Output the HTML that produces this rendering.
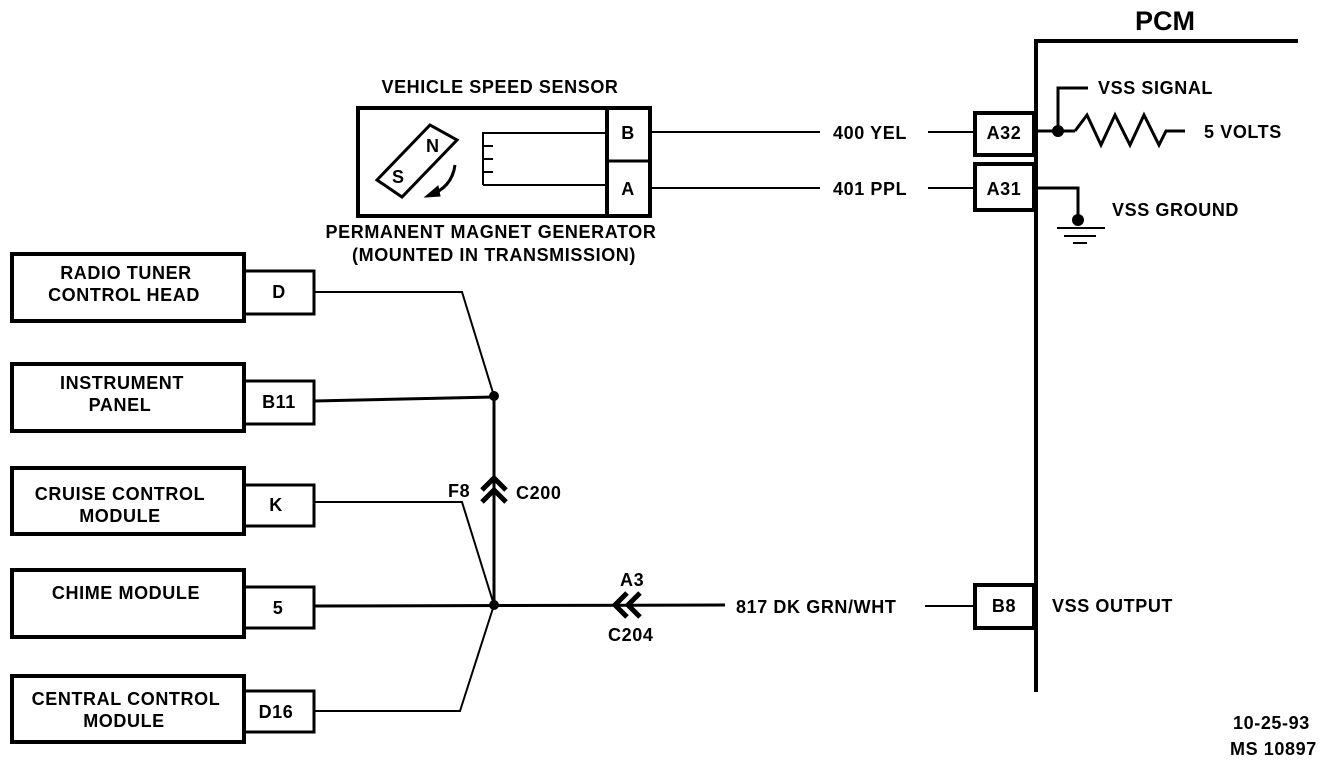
<!DOCTYPE html>
<html><head><style>
body{margin:0;background:#fff}
svg{display:block}
text{font-family:"Liberation Sans",sans-serif;font-weight:bold;fill:#000}
</style></head><body>
<svg width="1344" height="768" viewBox="0 0 1344 768" xmlns="http://www.w3.org/2000/svg">
<g fill="none" stroke="#000">
<rect x="12" y="254" width="232" height="67" stroke-width="4"/>
<rect x="244" y="271" width="70" height="43" stroke-width="3"/>
<rect x="12" y="364" width="232" height="67" stroke-width="4"/>
<rect x="244" y="381" width="70" height="43" stroke-width="3"/>
<rect x="12" y="468" width="232" height="66" stroke-width="4"/>
<rect x="244" y="485" width="70" height="41" stroke-width="3"/>
<rect x="12" y="570" width="232" height="67" stroke-width="4"/>
<rect x="244" y="587" width="70" height="41" stroke-width="3"/>
<rect x="12" y="676" width="232" height="66" stroke-width="4"/>
<rect x="244" y="691" width="70" height="41" stroke-width="3"/>
<polyline points="314,292 462,292 494,396" stroke-width="2"/>
<line x1="314" y1="401" x2="494" y2="397" stroke-width="3"/>
<line x1="494" y1="396" x2="494" y2="605" stroke-width="3"/>
<polyline points="314,502 462,502 494,605" stroke-width="2"/>
<line x1="314" y1="606" x2="725" y2="605" stroke-width="3"/>
<polyline points="314,711 460,711 494,605" stroke-width="2"/>
<line x1="925" y1="606" x2="975" y2="606" stroke-width="2"/>
<polyline points="482,490 494,478 506,490" stroke-width="5"/>
<polyline points="482,502 494,490 506,502" stroke-width="5"/>
<polyline points="627,593 615,605 627,617" stroke-width="5"/>
<polyline points="640,593 628,605 640,617" stroke-width="5"/>
<rect x="358" y="108" width="292" height="108" stroke-width="4"/>
<line x1="607" y1="108" x2="607" y2="216" stroke-width="4"/>
<line x1="607" y1="161" x2="650" y2="161" stroke-width="3"/>
<polygon points="377,180 430,125 457,140 402,197" stroke-width="3"/>
<path d="M455,165 Q452,188 428,196" stroke-width="3"/>
<polygon points="425,197 438,186 440,196" fill="#000" stroke-width="1"/>
<polyline points="483,185 483,133 607,133" stroke-width="2"/>
<polyline points="483,185 607,185" stroke-width="2"/>
<line x1="483" y1="146" x2="493" y2="146" stroke-width="2"/>
<line x1="483" y1="159" x2="493" y2="159" stroke-width="2"/>
<line x1="483" y1="172" x2="493" y2="172" stroke-width="2"/>
<line x1="650" y1="132" x2="820" y2="132" stroke-width="2"/>
<line x1="650" y1="188" x2="820" y2="188" stroke-width="2"/>
<line x1="928" y1="132" x2="975" y2="132" stroke-width="2"/>
<line x1="928" y1="188" x2="975" y2="188" stroke-width="2"/>
<polyline points="1036,692 1036,41 1298,41" stroke-width="4"/>
<rect x="975" y="113" width="59" height="42" stroke-width="4"/>
<rect x="975" y="164" width="59" height="46" stroke-width="4"/>
<rect x="975" y="585" width="59" height="43" stroke-width="4"/>
<line x1="1034" y1="131" x2="1075" y2="131" stroke-width="3"/>
<polyline points="1058,131 1058,88 1088,88" stroke-width="3"/>
<polyline points="1075,131 1087,115 1101,145 1115,115 1130,145 1144,115 1159,145 1166,131 1185,131" stroke-width="3"/>
<polyline points="1038,188 1078,188 1078,218" stroke-width="3"/>
<line x1="1057" y1="228" x2="1105" y2="228" stroke-width="2"/>
<line x1="1064" y1="236" x2="1096" y2="236" stroke-width="2"/>
<line x1="1073" y1="243" x2="1087" y2="243" stroke-width="2"/>
</g>
<circle cx="494" cy="396" r="5"/>
<circle cx="494" cy="605" r="5"/>
<circle cx="1058" cy="131" r="6"/>
<circle cx="1078" cy="220" r="6"/>
<g font-size="18" letter-spacing="0.6">
<text x="126" y="279" text-anchor="middle">RADIO TUNER</text>
<text x="124" y="301" text-anchor="middle">CONTROL HEAD</text>
<text x="279" y="298" text-anchor="middle">D</text>
<text x="122" y="389" text-anchor="middle">INSTRUMENT</text>
<text x="120" y="411" text-anchor="middle">PANEL</text>
<text x="279" y="408" text-anchor="middle">B11</text>
<text x="120" y="500" text-anchor="middle">CRUISE CONTROL</text>
<text x="120" y="522" text-anchor="middle">MODULE</text>
<text x="276" y="511" text-anchor="middle">K</text>
<text x="126" y="599" text-anchor="middle">CHIME MODULE</text>
<text x="278" y="614" text-anchor="middle">5</text>
<text x="126" y="705" text-anchor="middle">CENTRAL CONTROL</text>
<text x="124" y="727" text-anchor="middle">MODULE</text>
<text x="276" y="718" text-anchor="middle">D16</text>
<text x="448" y="497">F8</text>
<text x="516" y="499">C200</text>
<text x="620" y="586">A3</text>
<text x="608" y="641">C204</text>
<text x="736" y="613">817 DK GRN/WHT</text>
<text x="1004" y="612" text-anchor="middle">B8</text>
<text x="1052" y="612">VSS OUTPUT</text>
<text x="500" y="93" text-anchor="middle">VEHICLE SPEED SENSOR</text>
<text x="491" y="238" text-anchor="middle">PERMANENT MAGNET GENERATOR</text>
<text x="494" y="261" text-anchor="middle">(MOUNTED IN TRANSMISSION)</text>
<text x="628" y="139" text-anchor="middle">B</text>
<text x="628" y="195" text-anchor="middle">A</text>
<text x="426" y="152">N</text>
<text x="392" y="183">S</text>
<text x="833" y="139">400 YEL</text>
<text x="833" y="195">401 PPL</text>
<text x="1004" y="139" text-anchor="middle">A32</text>
<text x="1004" y="195" text-anchor="middle">A31</text>
<text x="1098" y="94">VSS SIGNAL</text>
<text x="1204" y="138">5 VOLTS</text>
<text x="1112" y="216">VSS GROUND</text>
<text x="1233" y="729">10-25-93</text>
<text x="1230" y="755">MS 10897</text>
</g>
<text x="1165" y="30" font-size="27" text-anchor="middle">PCM</text>
</svg>
</body></html>
